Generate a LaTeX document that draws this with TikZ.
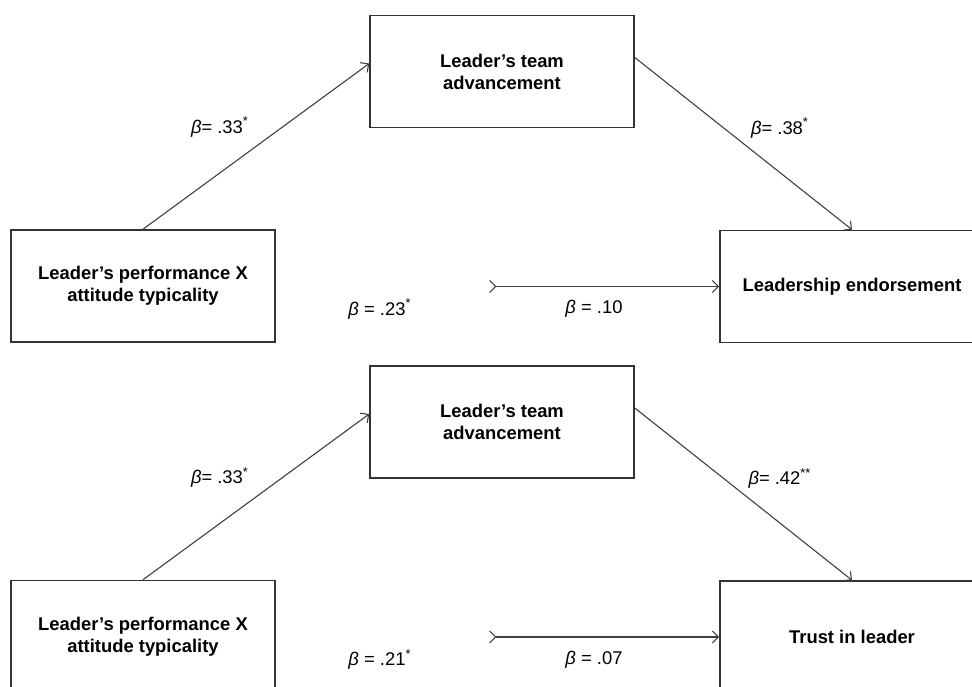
\documentclass[tikz,border=0pt]{standalone}
\usepackage{fontspec}
\setmainfont{Liberation Sans}
\usetikzlibrary{arrows.meta}
\tikzset{box/.style={draw=black!80, line width=0.8pt, minimum width=132pt, minimum height=56pt, inner sep=0pt, align=center, font=\fontsize{9.2}{11}\selectfont\bfseries},
        link/.style={draw=black!75, line width=0.55pt, -{Straight Barb[length=3pt, width=6pt]}},
        coef/.style={font=\fontsize{9.2}{11}\selectfont, inner sep=0pt}}

\begin{document}
\begin{tikzpicture}[x=0.5pt, y=-0.5pt]
    \useasboundingbox (0,0) rectangle (972,686);
    \clip (0,0) rectangle (972,686);

    % one panel per outcome, the lower one cut by the page edge
    \foreach \i/\dy/\outtext/\ca/\cb/\cc/\cd in {1/0/Leadership endorsement/{.33\textsuperscript{*}}/{.38\textsuperscript{*}}/{.23\textsuperscript{*}}/.10,
                                               2/350.5/Trust in leader/{.33\textsuperscript{*}}/{.42\textsuperscript{**}}/{.21\textsuperscript{*}}/.07} {
      \node[box] (perf\i) at (143,286+\dy) {Leader’s performance X\\attitude typicality};
      \node[box] (team\i) at (502,71.5+\dy) {Leader’s team\\advancement};
      \node[box, minimum width=132pt] (out\i) at (852,286.5+\dy) {\outtext};
      \coordinate (mid\i) at (489,286.5+\dy);

      \draw[link] (perf\i.north) -- ([yshift=4pt]team\i.west);
      \draw[link] ([yshift=7pt]team\i.east) -- (out\i.north);
      \draw[link, {Straight Barb[reversed, length=3pt, width=6pt]}-{Straight Barb[length=3pt, width=6pt]}] (mid\i) -- (out\i.west);

      \node[coef] (ca\i) at (220,127+\dy) {\textit{β}= \ca};
      \node[coef] (cb\i) at (780,128+\dy) {\textit{β}= \cb};
      \node[coef] (cc\i) at (380,309+\dy) {\textit{β} = \cc};
      \node[coef] (cd\i) at (594,309+\dy) {\textit{β} = \cd};
    }
\end{tikzpicture}
\end{document}
